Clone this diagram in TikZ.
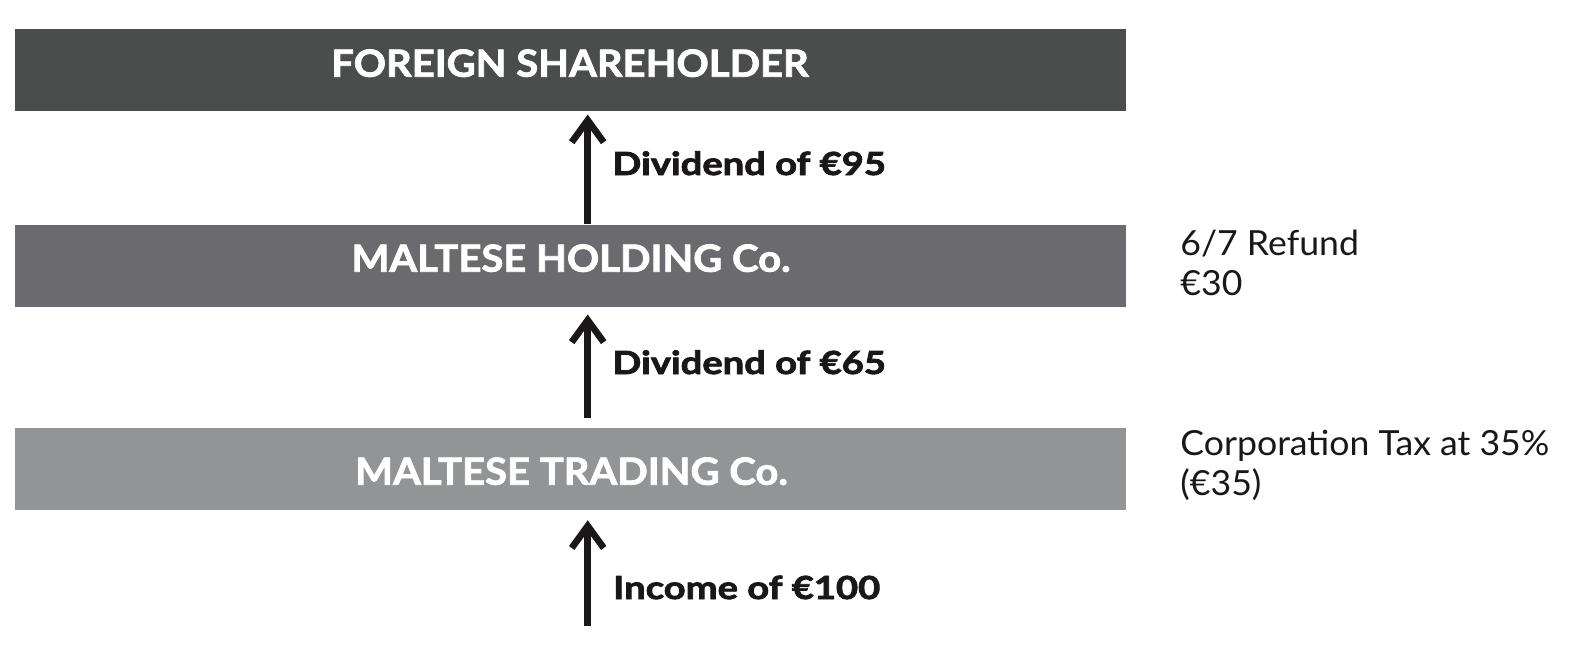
\documentclass[tikz,border=0pt]{standalone}
\usepackage{fontspec}
\setmainfont{Lato}
\newfontfamily\lblfont{Lato}[FakeStretch=1.2,FakeBold=2.5]
\newfontfamily\bandfont{Lato}[FakeStretch=1.07,FakeBold=2]
\newfontfamily\sidefont{Lato}[FakeStretch=1.03]
\usetikzlibrary{arrows.meta}
\definecolor{boxA}{HTML}{4B4D4C}
\definecolor{boxB}{HTML}{6B6B6F}
\definecolor{boxC}{HTML}{939496}
\definecolor{ink}{HTML}{1A1718}
\begin{document}
\begin{tikzpicture}[x=0.5pt,y=-0.5pt,
  band/.style={minimum width=555.5pt,minimum height=41pt,inner sep=0pt},
  bandtext/.style={anchor=base,inner sep=0pt,text=white,font=\bandfont\fontsize{18.7}{20}\selectfont\bfseries},
  flow/.style={draw=ink,line width=3.35pt,-{Straight Barb[length=11pt,width=16pt]}},
  flowlab/.style={anchor=base west,inner sep=0pt,text=ink,font=\lblfont\fontsize{15.9}{18}\selectfont\bfseries},
  side/.style={anchor=base west,inner sep=0pt,align=left,text=ink,font=\sidefont\fontsize{17.3}{20}\selectfont}]
\useasboundingbox[fill=white] (0,0) rectangle (1582,648);
\node[band,fill=boxA] (fs) at (570.5,69.85) {};
\node[band,fill=boxB] (mh) at (570.5,265.85) {};
\node[band,fill=boxC] (mt) at (570.5,468.85) {};
\node[bandtext] (fst) at (570,76.7) {FOREIGN SHAREHOLDER};
\node[bandtext] (mht) at (571,271.7) {MALTESE HOLDING Co.};
\node[bandtext] (mtt) at (571.5,484.7) {MALTESE TRADING Co.};
\coordinate (base) at (587.7,626);
\draw[flow] (mh.north -| base) -- ([yshift=-1.65pt]fs.south -| base);
\draw[flow] ([yshift=4.5pt]mt.north -| base) -- ([yshift=-3.6pt]mh.south -| base);
\draw[flow] (base) -- ([yshift=-5pt]mt.south -| base);
\node[flowlab] (l1) at (612,175) {Dividend of €95};
\node[flowlab] (l2) at (612,374) {Dividend of €65};
\node[flowlab] (l3) at (612.7,599) {Income of €100};
\node[side] (r1) at (1180,295) {6/7 Refund\\€30};
\node[side] (r2) at (1180,495) {Corporation Tax at 35\%\\(€35)};
\end{tikzpicture}
\end{document}
